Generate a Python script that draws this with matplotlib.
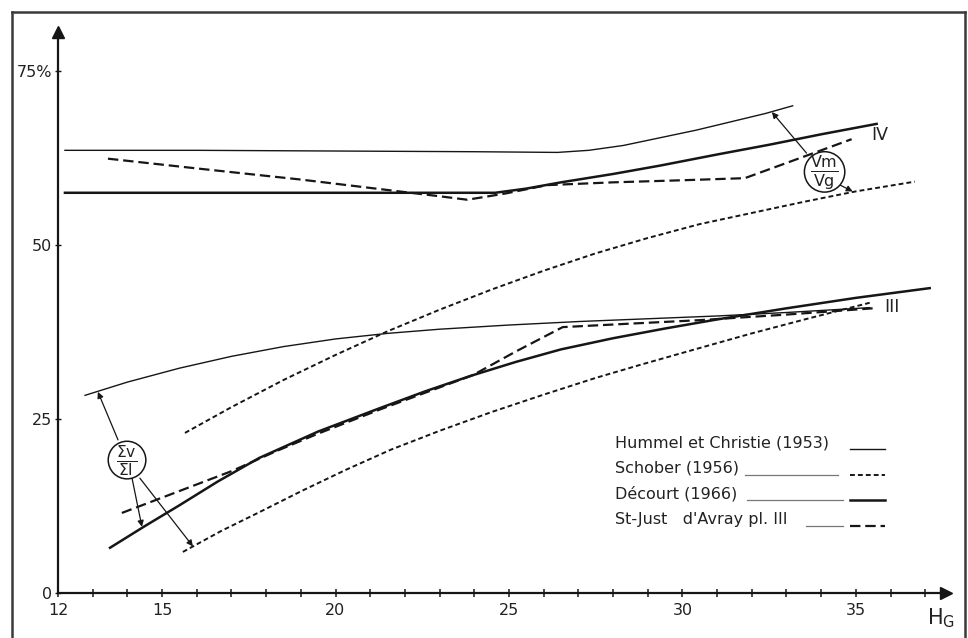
import matplotlib
matplotlib.use('Agg')
import matplotlib.pyplot as plt
from matplotlib.lines import Line2D

plt.rcParams['font.family'] = ['DejaVu Sans']
plt.rcParams['mathtext.fontset'] = 'dejavusans'
plt.rcParams['lines.scale_dashes'] = False

INK = '#161616'

# --- courbes IV (Vm/Vg) ---
hummel_iv_x = [12.2, 16, 20, 24, 26.4, 27.3, 28.3, 29.35, 30.4, 31.4, 32.4, 33.18]
hummel_iv_y = [63.6, 63.6, 63.5, 63.4, 63.3, 63.6, 64.3, 65.4, 66.5, 67.7, 68.9, 70.0]

decourt_iv_x = [12.2, 18, 24.6, 25.5, 26.5, 28, 29.35, 31, 32.5, 34, 35.6]
decourt_iv_y = [57.5, 57.5, 57.5, 58.1, 59.0, 60.2, 61.4, 63.0, 64.4, 65.9, 67.4]

stjust_iv_x = [13.44, 16, 19, 21.5, 23.0, 23.8, 24.9, 26.1, 28, 30, 31.8, 34.88]
stjust_iv_y = [62.4, 61.0, 59.4, 57.9, 57.0, 56.5, 57.4, 58.6, 59.0, 59.3, 59.6, 65.2]

schober_iv_x = [15.66, 17, 18.5, 20, 21.5, 23, 24.5, 26, 27.5, 29, 30.5, 32, 33.5, 35, 36.7]
schober_iv_y = [23.0, 26.7, 30.6, 34.2, 37.6, 40.7, 43.6, 46.3, 48.8, 51.0, 53.0, 54.6, 56.2, 57.7, 59.1]

# --- courbes III (Σv/ΣI) ---
hummel_iii_x = [12.78, 14, 15.5, 17, 18.5, 20, 21.5, 23, 25, 27, 29, 31, 33, 35.4]
hummel_iii_y = [28.4, 30.3, 32.3, 34.0, 35.4, 36.5, 37.3, 37.9, 38.5, 39.0, 39.4, 39.8, 40.3, 41.0]

decourt_iii_x = [13.5, 14.5, 15.5, 16.6, 17.8, 19.5, 21.3, 22.6, 23.9, 25.2, 26.5, 28, 29.5, 31, 33, 35, 37.13]
decourt_iii_y = [6.5, 9.6, 12.6, 16.0, 19.4, 23.2, 26.6, 29.0, 31.2, 33.2, 35.0, 36.6, 38.0, 39.3, 40.9, 42.4, 43.8]

stjust_iii_x = [13.84, 15, 16.0, 17.0, 18.3, 19.5, 21.3, 22.6, 23.96, 25.2, 26.55, 28.5, 30.5, 33, 35.49]
stjust_iii_y = [11.5, 13.7, 15.6, 17.5, 20.4, 22.9, 26.4, 28.8, 31.3, 34.7, 38.2, 38.7, 39.2, 40.0, 40.9]

schober_iii_x = [15.6, 16.7, 17.8, 19, 20.3, 21.6, 23, 24.5, 26, 27.5, 28.8, 30.5, 32, 33.6, 35.4]
schober_iii_y = [5.9, 8.9, 11.6, 14.6, 17.7, 20.6, 23.3, 26.0, 28.5, 30.9, 32.8, 35.2, 37.3, 39.4, 41.7]

x_major = [12, 15, 20, 25, 30, 35]
x_minor = list(range(13, 38))
y_ticks = [0, 25, 50, 75]
y_labels = ['0', '25', '50', '75%']

legend_names = ['Hummel et Christie (1953)', 'Schober (1956)', 'Décourt (1966)',
                "St-Just   d'Avray pl. III"]

# styles des auteurs
styles = {
    'hummel': dict(color=INK, lw=1.0, ls='-'),
    'schober': dict(color=INK, lw=1.4, dashes=(3.5, 2.2)),
    'decourt': dict(color=INK, lw=1.8, ls='-'),
    'stjust': dict(color=INK, lw=1.6, dashes=(7.5, 3.5)),
}

fig = plt.figure(figsize=(9.68, 6.38), dpi=100)
ax = fig.add_axes([58 / 968, 45 / 638, 888 / 968, 561 / 638])
ax.set_xlim(12, 37.6)
ax.set_ylim(0, 80.6)

ax.plot(hummel_iv_x, hummel_iv_y, **styles['hummel'])
ax.plot(decourt_iv_x, decourt_iv_y, **styles['decourt'])
ax.plot(stjust_iv_x, stjust_iv_y, **styles['stjust'])
ax.plot(schober_iv_x, schober_iv_y, **styles['schober'])

ax.plot(hummel_iii_x, hummel_iii_y, **styles['hummel'])
ax.plot(decourt_iii_x, decourt_iii_y, **styles['decourt'])
ax.plot(stjust_iii_x, stjust_iii_y, **styles['stjust'])
ax.plot(schober_iii_x, schober_iii_y, **styles['schober'])

# axes avec fleches
for side in ['top', 'right']:
    ax.spines[side].set_visible(False)
for side in ['left', 'bottom']:
    ax.spines[side].set_linewidth(1.6)
    ax.spines[side].set_color(INK)
ax.plot(1, 0, '>', color=INK, ms=8, transform=ax.get_yaxis_transform(), clip_on=False)
ax.plot(12, 1, '^', color=INK, ms=8, transform=ax.get_xaxis_transform(), clip_on=False)

ax.set_xticks(x_major)
ax.set_xticks(x_minor, minor=True)
ax.set_yticks(y_ticks)
ax.set_yticklabels(y_labels)
ax.tick_params(axis='x', which='both', direction='inout', length=6, width=1.1,
               color=INK, labelsize=11.5, labelcolor='#222', pad=4)
ax.tick_params(axis='y', direction='inout', length=5, width=1.0,
               color=INK, labelsize=11.5, labelcolor='#222', pad=2)
ax.text(37.45, -3.6, r'$\mathsf{H_G}$', fontsize=15, color='#222',
        ha='center', va='center', clip_on=False)

# reperes des groupes
ax.text(35.7, 65.8, 'IV', fontsize=12.5, color='#222', ha='center', va='center')
ax.text(36.05, 41.1, 'III', fontsize=12.5, color='#222', ha='center', va='center')

# rapports entoures et fleches de renvoi
circ = dict(boxstyle='circle,pad=0.06', fc='white', ec=INK, lw=1.1)
ax.text(34.1, 60.5, r'$\frac{\mathsf{Vm}}{\mathsf{Vg}}$', fontsize=16.5, ha='center',
        va='center', bbox=circ, zorder=5, color='#222')
ax.text(13.99, 19.1, r'$\frac{\mathsf{\Sigma v}}{\mathsf{\Sigma I}}$', fontsize=16,
        ha='center', va='center', bbox=circ, zorder=5, color='#222')

arrow = dict(arrowstyle='-|>', lw=0.9, color=INK, shrinkA=0, shrinkB=0,
             mutation_scale=9)
for tip, tail in [((32.58, 69.1), (33.58, 63.2)),
                  ((34.91, 57.7), (34.55, 58.6)),
                  ((13.15, 28.9), (13.73, 22.0)),
                  ((14.42, 9.5), (14.13, 16.6)),
                  ((15.89, 6.7), (14.36, 16.5))]:
    ax.annotate('', xy=tip, xytext=tail, arrowprops=arrow)

# legende
legend_y = [21.6, 17.9, 14.2, 10.5]
legend_keys = ['hummel', 'schober', 'decourt', 'stjust']
leaders = [None, (31.80, 34.48), (31.86, 34.62), (33.56, 34.62)]
for name, key, y, lead in zip(legend_names, legend_keys, legend_y, leaders):
    ax.text(28.05, y, name, fontsize=11.5, color='#222', ha='left', va='center')
    base = y - 0.9
    if lead is not None:
        ax.plot(lead, [base, base], color='#777777', lw=0.9)
    ax.plot([34.82, 35.83], [base, base], **styles[key])

# cadre
frame = dict(color='#3a3a3a', lw=1.8, transform=fig.transFigure)
fig.add_artist(Line2D([12 / 968, 12 / 968], [0, 1 - 12 / 638], **frame))
fig.add_artist(Line2D([12 / 968, 965 / 968], [1 - 12 / 638, 1 - 12 / 638], **frame))
fig.add_artist(Line2D([965 / 968, 965 / 968], [0, 1 - 12 / 638], **frame))

fig.savefig('out.png', dpi=100, facecolor='white')
